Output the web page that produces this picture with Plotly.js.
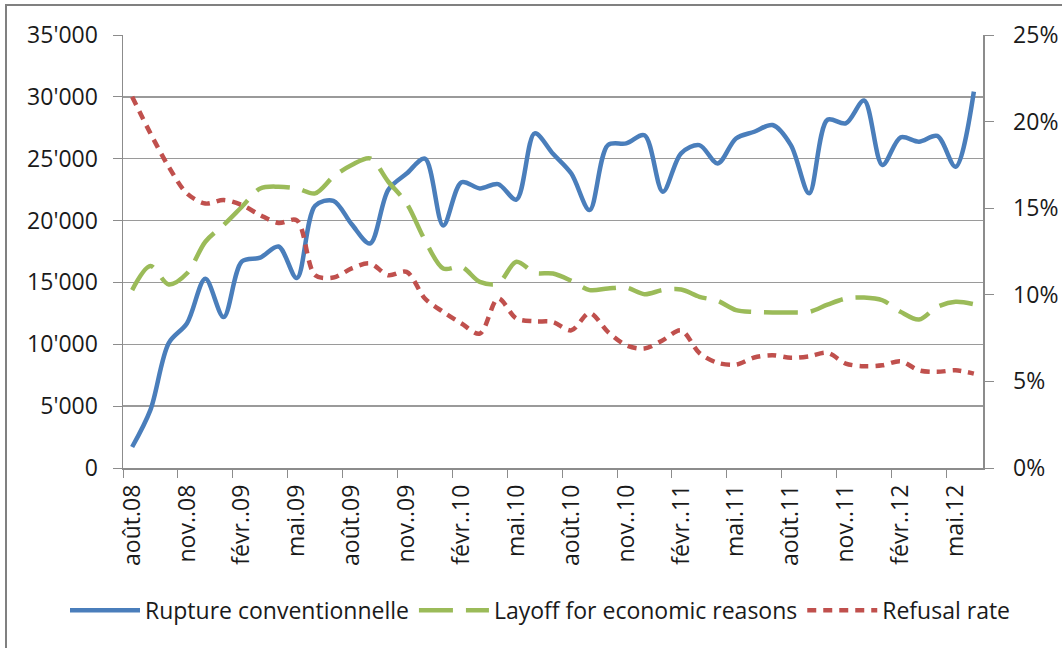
<!DOCTYPE html>
<html>
<head>
<meta charset="utf-8">
<script src="https://cdn.plot.ly/plotly-3.0.1.min.js"></script>
<style>
  html, body { margin: 0; padding: 0; background: #ffffff; }
  #chart { width: 1062px; height: 648px; }
</style>
</head>
<body>
<div id="chart"></div>
<script>
const months = ["août.08","sept..08","oct..08","nov..08","déc..08",
  "janv..09","févr..09","mars.09","avr..09","mai.09","juin.09","juil..09","août.09","sept..09","oct..09","nov..09","déc..09",
  "janv..10","févr..10","mars.10","avr..10","mai.10","juin.10","juil..10","août.10","sept..10","oct..10","nov..10","déc..10",
  "janv..11","févr..11","mars.11","avr..11","mai.11","juin.11","juil..11","août.11","sept..11","oct..11","nov..11","déc..11",
  "janv..12","févr..12","mars.12","avr..12","mai.12","juin.12"];

const rupture = [1700, 4700, 10100, 11700, 15300, 12200, 16700, 17000, 17900, 15350, 21200, 21600, 19700, 18150, 22500, 23800, 25000,
  19600, 23100, 22600, 22950, 21700, 27050, 25400, 23800, 20850, 26100, 26240, 26900,
  22330, 25440, 26100, 24620, 26640, 27180, 27720, 26100, 22200, 28150, 27860, 29700,
  24490, 26730, 26380, 26840, 24350, 30420];

const layoff = [14380, 16320, 14840, 15740, 18290, 19640, 21120, 22600, 22740, 22600, 22200, 23550, 24490, 25030, 23140, 21390, 18420,
  16130, 16260, 15050, 14920, 16670, 15780, 15720, 15130, 14380, 14510, 14590, 14050,
  14380, 14430, 13840, 13510, 12760, 12620, 12570, 12570, 12620, 13200, 13700, 13780,
  13560, 12620, 12000, 13030, 13430, 13240];

const refusal = [21.43, 19.32, 17.39, 15.85, 15.27, 15.47, 15.18, 14.6, 14.15, 14.3, 11.13, 11.0, 11.52, 11.81, 11.13, 11.32, 9.79,
  9.01, 8.34, 7.76, 9.79, 8.63, 8.47, 8.43, 7.95, 8.95, 7.86, 7.09, 6.9,
  7.38, 7.95, 6.64, 6.07, 5.97, 6.38, 6.51, 6.36, 6.45, 6.65, 6.03, 5.88,
  5.93, 6.16, 5.64, 5.55, 5.64, 5.45];

const seriesNames = ["Rupture conventionnelle", "Layoff for economic reasons", "Refusal rate"];

const FONT = '"Open Sans", "Noto Sans", sans-serif';
const AX = '#8c8c8c';
const TXT = '#1a1a1a';
const FS = 23;

const traces = [
  { x: months, y: rupture, name: seriesNames[0], type: 'scatter', mode: 'lines',
    line: { color: '#4a7ebb', width: 4.5, shape: 'spline', smoothing: 0.9 }, yaxis: 'y' },
  { x: months, y: layoff, name: seriesNames[1], type: 'scatter', mode: 'lines',
    line: { color: '#9bbb59', width: 4.5, shape: 'spline', smoothing: 0.9, dash: '34px,13px' }, yaxis: 'y' },
  { x: months, y: refusal, name: seriesNames[2], type: 'scatter', mode: 'lines',
    line: { color: '#c0504d', width: 4.5, shape: 'spline', smoothing: 0.9, dash: '9px,7px' }, yaxis: 'y2' }
];

const layout = {
  width: 1062, height: 648,
  paper_bgcolor: '#ffffff', plot_bgcolor: '#ffffff',
  margin: { l: 123, r: 79, t: 35, b: 180, pad: 0 },
  separators: ".'",
  font: { family: FONT, size: FS, color: TXT },
  showlegend: true,
  legend: {
    orientation: 'h', xref: 'paper', yref: 'paper',
    x: (65 - 123) / 860, xanchor: 'left', y: (467.7 - 610) / 432.7, yanchor: 'middle',
    font: { family: FONT, size: FS, color: TXT },
    itemwidth: 70, traceorder: 'normal', bgcolor: 'rgba(0,0,0,0)'
  },
  xaxis: {
    type: 'category', range: [-0.5, 46.5], tickmode: 'linear', tick0: 0, dtick: 3,
    tickson: 'boundaries', ticks: 'outside', ticklen: 8, tickcolor: AX, tickwidth: 1,
    tickangle: -90, showline: true, linecolor: AX, linewidth: 1.5, showgrid: false,
    zeroline: false, fixedrange: true, ticklabelstandoff: 6, tickfont: { family: FONT, size: FS, color: TXT }
  },
  yaxis: {
    range: [0, 35000], tickmode: 'linear', tick0: 0, dtick: 5000, tickformat: ',',
    ticks: 'outside', ticklen: 9, tickcolor: AX, tickwidth: 1,
    showline: true, linecolor: AX, linewidth: 1.5, showgrid: true, gridcolor: '#9a9a9a', gridwidth: 1.5,
    zeroline: false, ticklabelstandoff: 10, tickfont: { family: FONT, size: FS, color: TXT }
  },
  yaxis2: {
    range: [0, 25], overlaying: 'y', side: 'right', tickmode: 'linear', tick0: 0, dtick: 5, ticksuffix: '%',
    ticks: 'outside', ticklen: 9, tickcolor: AX, tickwidth: 1,
    showline: true, linecolor: AX, linewidth: 1.5, showgrid: false, zeroline: false,
    ticklabelstandoff: 15, tickfont: { family: FONT, size: FS, color: TXT }
  },
  shapes: [
    { type: 'rect', xref: 'paper', yref: 'paper',
      x0: (6 - 123) / 860, x1: 1.2, y0: -1, y1: (467.7 - 5) / 432.7,
      line: { color: '#808080', width: 2 }, fillcolor: 'rgba(0,0,0,0)', layer: 'below' }
  ]
};

Plotly.newPlot('chart', traces, layout, { displayModeBar: false, staticPlot: true });
</script>
</body>
</html>
